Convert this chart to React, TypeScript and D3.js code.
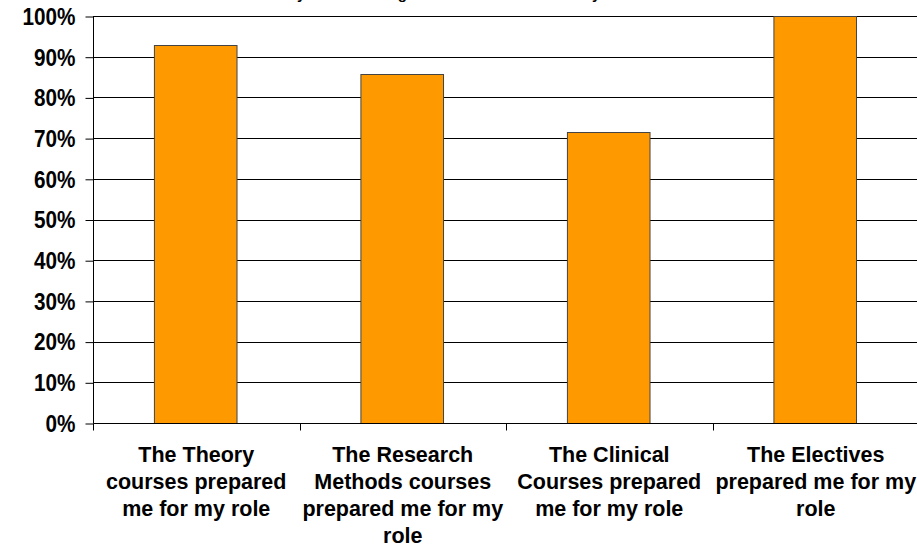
import React, { useEffect, useRef } from 'react'
import * as d3 from 'd3'

const categories = [
  ['The Theory', 'courses prepared', 'me for my role'],
  ['The Research', 'Methods courses', 'prepared me for my', 'role'],
  ['The Clinical', 'Courses prepared', 'me for my role'],
  ['The Electives', 'prepared me for my', 'role'],
]
const values = [0.929, 0.857, 0.714, 1.0]
const yTicks = [0, 0.1, 0.2, 0.3, 0.4, 0.5, 0.6, 0.7, 0.8, 0.9, 1.0]
const title = 'Survey Results: Program Outcomes as Rated by Alumni'

const App = () => {
  const svgRef = useRef<SVGSVGElement>(null)

  useEffect(() => {
    const w = 917
    const h = 548
    const left = 93
    const top = 16
    const bottom = 423
    const right = 919
    const svg = d3.select(svgRef.current)
    svg.selectAll('*').remove()
    const font = 'Liberation Sans, Arial, sans-serif'

    const x = d3.scaleBand<number>()
      .domain(d3.range(categories.length))
      .range([left, right])
    const y = d3.scaleLinear().domain([0, 1]).range([bottom, top])

    // title, cut off at the top like the original
    svg.append('text')
      .attr('x', 455)
      .attr('y', -1.5)
      .attr('text-anchor', 'middle')
      .style('font-family', font)
      .style('font-weight', 'bold')
      .style('font-size', '15px')
      .text(title)

    // gridlines
    svg.append('g')
      .selectAll('line')
      .data(yTicks.slice(1))
      .join('line')
        .attr('x1', left)
        .attr('x2', w)
        .attr('y1', d => Math.round(y(d)) + 0.5)
        .attr('y2', d => Math.round(y(d)) + 0.5)
        .attr('stroke', '#000')

    // bars
    svg.append('g')
      .selectAll('rect')
      .data(values)
      .join('rect')
        .attr('x', (d, i) => x(i)! + x.bandwidth() * 0.295 + 0.5)
        .attr('width', x.bandwidth() * 0.4)
        .attr('y', d => Math.round(y(d)) + 0.5)
        .attr('height', d => bottom - Math.round(y(d)))
        .attr('fill', '#FF9900')
        .attr('stroke', '#444')

    // y axis
    const yAxis = d3.axisLeft(y)
      .tickValues(yTicks)
      .tickSize(8)
      .tickPadding(10)
      .tickFormat(d3.format('.0%'))
    const gy = svg.append('g')
      .attr('transform', `translate(${left + 0.5},0.5)`)
      .call(yAxis)
    gy.select('.domain').attr('d', `M0,${top}V${bottom}`).attr('stroke', '#000')
    gy.selectAll<SVGTextElement, number>('text')
      .style('font-family', font)
      .style('font-weight', 'bold')
      .style('font-size', '23px')
      .attr('fill', '#000')
      .attr('dy', '0.34em')
      .each(function () {
        // narrow the glyphs a little, the original labels look condensed
        const len = this.getComputedTextLength()
        d3.select(this).attr('textLength', len * 0.9).attr('lengthAdjust', 'spacingAndGlyphs')
      })

    // x axis
    const gx = svg.append('g').attr('transform', `translate(0.5,${bottom + 0.5})`)
    gx.append('line').attr('x1', left).attr('x2', w).attr('stroke', '#000')
    gx.selectAll('.tick')
      .data(d3.range(categories.length + 1))
      .join('line')
        .attr('x1', i => Math.round(left + i * x.step()))
        .attr('x2', i => Math.round(left + i * x.step()))
        .attr('y1', 0)
        .attr('y2', 7)
        .attr('stroke', '#000')

    // category labels
    svg.append('g')
      .selectAll('text')
      .data(categories)
      .join('text')
        .attr('text-anchor', 'middle')
        .style('font-family', font)
        .style('font-weight', 'bold')
        .style('font-size', '21.5px')
        .attr('fill', '#000')
        .selectAll('tspan')
        .data((d, i) => d.map(s => ({ s, i })))
        .join('tspan')
          .attr('x', d => x(d.i)! + x.bandwidth() / 2)
          .attr('y', (d, j) => 462 + j * 27)
          .text(d => d.s)

    svg.attr('width', w).attr('height', h)
  }, [])

  return (
    <svg ref={svgRef} width={917} height={548}
      style={{ position: 'absolute', left: 0, top: 0, background: '#fff' }} />
  )
}

export default App
